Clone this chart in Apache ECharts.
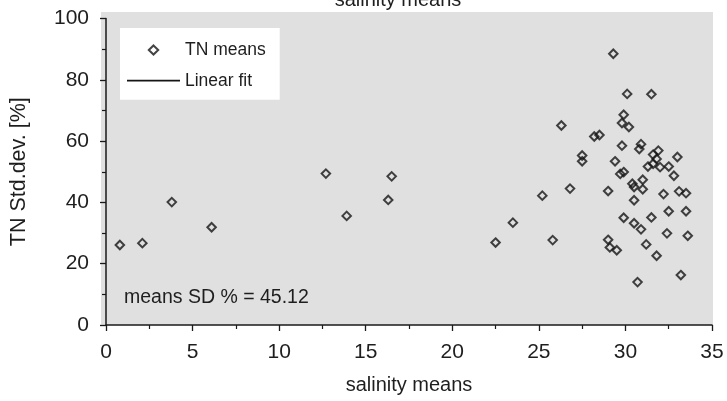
<!DOCTYPE html>
<html><head><meta charset="utf-8">
<script src="https://cdn.jsdelivr.net/npm/echarts@6/dist/echarts.min.js"></script>
<style>html,body{margin:0;padding:0;background:#fff}#c{width:727px;height:401px}</style>
</head><body><div id="c"></div>
<script>
const salinity = [0.8,2.1,3.8,6.1,12.7,13.9,16.3,16.5,22.5,23.5,25.2,25.8,26.8,26.3,27.5,27.5,28.2,28.5,29.0,29.0,29.1,29.5,29.3,29.4,29.7,29.9,29.9,29.9,29.8,30.2,29.8,30.1,30.5,30.5,30.7,31.5,30.9,30.8,31.9,31.6,31.8,33.0,31.3,31.6,32.0,32.5,32.8,30.4,30.5,31.0,31.0,33.1,32.2,33.5,32.5,33.5,30.9,31.5,32.4,33.6,31.2,31.8,33.2];
const tnSD = [26.1,26.7,40.1,31.9,49.4,35.6,40.8,48.5,26.9,33.4,42.2,27.7,44.5,65.1,55.3,53.4,61.5,62.0,43.7,27.8,25.3,24.4,88.5,53.4,49.3,49.9,35.0,68.6,65.9,64.6,58.5,75.4,33.2,40.7,14.0,75.3,59.0,57.4,56.9,55.6,54.2,54.8,51.7,52.6,51.5,51.7,48.7,46.1,45.0,47.4,44.3,43.6,42.7,43.0,37.1,37.1,31.2,35.1,29.9,29.1,26.3,22.6,16.3];
const xTicks = [0,5,10,15,20,25,30,35];
const yTicks = [0,20,40,60,80,100];
const seriesNames = ['TN means','Linear fit'];
const titleText = 'salinity means';
const xName = 'salinity means';
const yName = 'TN Std.dev. [%]';
const annotation = 'means SD % = 45.12';

const FONT = "'Liberation Sans', Arial, sans-serif";
const TXT = '#1e1e1e';
const chart = echarts.init(document.getElementById('c'), null, {renderer:'canvas'});
const pts = salinity.map((x,i)=>[x, tnSD[i]]);
const diamondIcon = 'path://M0,0M53,10M26.5,0.5L31.2,5L26.5,9.5L21.8,5Z';
const lineIcon = 'path://M0,0M53,10M0,4.1L53,4.1L53,5.9L0,5.9Z';
chart.setOption({
  animation:false,
  textStyle:{fontFamily:FONT},
  grid:{left:101, right:15, top:18.5, bottom:76, containLabel:false},
  graphic:[
    {type:'rect', z:-10, shape:{x:101, y:12, width:612, height:313}, style:{fill:'#dfe0df'}},
    {type:'text', x:398, y:0, style:{text:titleText, font:'20px '+FONT, fill:TXT, textAlign:'center', textVerticalAlign:'middle'}},
    {type:'text', x:124, y:298, z:10, style:{text:annotation, font:'19.5px '+FONT, fill:TXT, textAlign:'left', textVerticalAlign:'middle'}}
  ],
  legend:{
    orient:'vertical', left:120, top:28,
    backgroundColor:'#ffffff', borderWidth:0,
    padding:[12,14,9,6],
    itemWidth:53, itemHeight:10, itemGap:10.7, itemTextGap:12.7,
    textStyle:{fontFamily:FONT, fontSize:17.5, color:TXT, lineHeight:20},
    data:[
      {name:seriesNames[0], icon:diamondIcon, itemStyle:{color:'rgba(0,0,0,0)', borderColor:'#151515', borderWidth:2}},
      {name:seriesNames[1], icon:lineIcon, itemStyle:{color:'#151515', borderWidth:0}}
    ]
  },
  xAxis:{
    type:'value', min:xTicks[0], max:xTicks[xTicks.length-1], interval:5,
    name:xName, nameLocation:'middle', nameGap:50,
    nameTextStyle:{fontFamily:FONT, fontSize:20, color:TXT},
    axisLine:{show:true, onZero:false, lineStyle:{color:'#1a1a1a', width:1.5}},
    axisTick:{show:true, inside:false, length:6, lineStyle:{color:'#1a1a1a', width:1.3}},
    minorTick:{show:true, splitNumber:2, length:4, lineStyle:{color:'#1a1a1a', width:1.2}},
    axisLabel:{fontFamily:FONT, fontSize:21, color:TXT, margin:17},
    splitLine:{show:false}
  },
  yAxis:{
    type:'value', min:yTicks[0], max:yTicks[yTicks.length-1], interval:20,
    name:yName, nameLocation:'middle', nameGap:76, nameRotate:90,
    nameTextStyle:{fontFamily:FONT, fontSize:21.5, color:TXT},
    axisLine:{show:true, onZero:false, lineStyle:{color:'#1a1a1a', width:1.5}},
    axisTick:{show:true, inside:false, length:6, lineStyle:{color:'#1a1a1a', width:1.3}},
    minorTick:{show:true, splitNumber:2, length:4, lineStyle:{color:'#1a1a1a', width:1.2}},
    axisLabel:{fontFamily:FONT, fontSize:21, color:TXT, margin:17},
    splitLine:{show:false}
  },
  series:[
    {name:seriesNames[0], type:'scatter', symbol:'diamond', symbolSize:8.5, data:pts,
     itemStyle:{color:'rgba(0,0,0,0)', borderColor:'#151515', borderWidth:2}, z:5},
    {name:seriesNames[1], type:'line', symbol:'none', data:[],
     lineStyle:{color:'#151515', width:2}, itemStyle:{color:'#151515'}}
  ]
});
</script></body></html>
